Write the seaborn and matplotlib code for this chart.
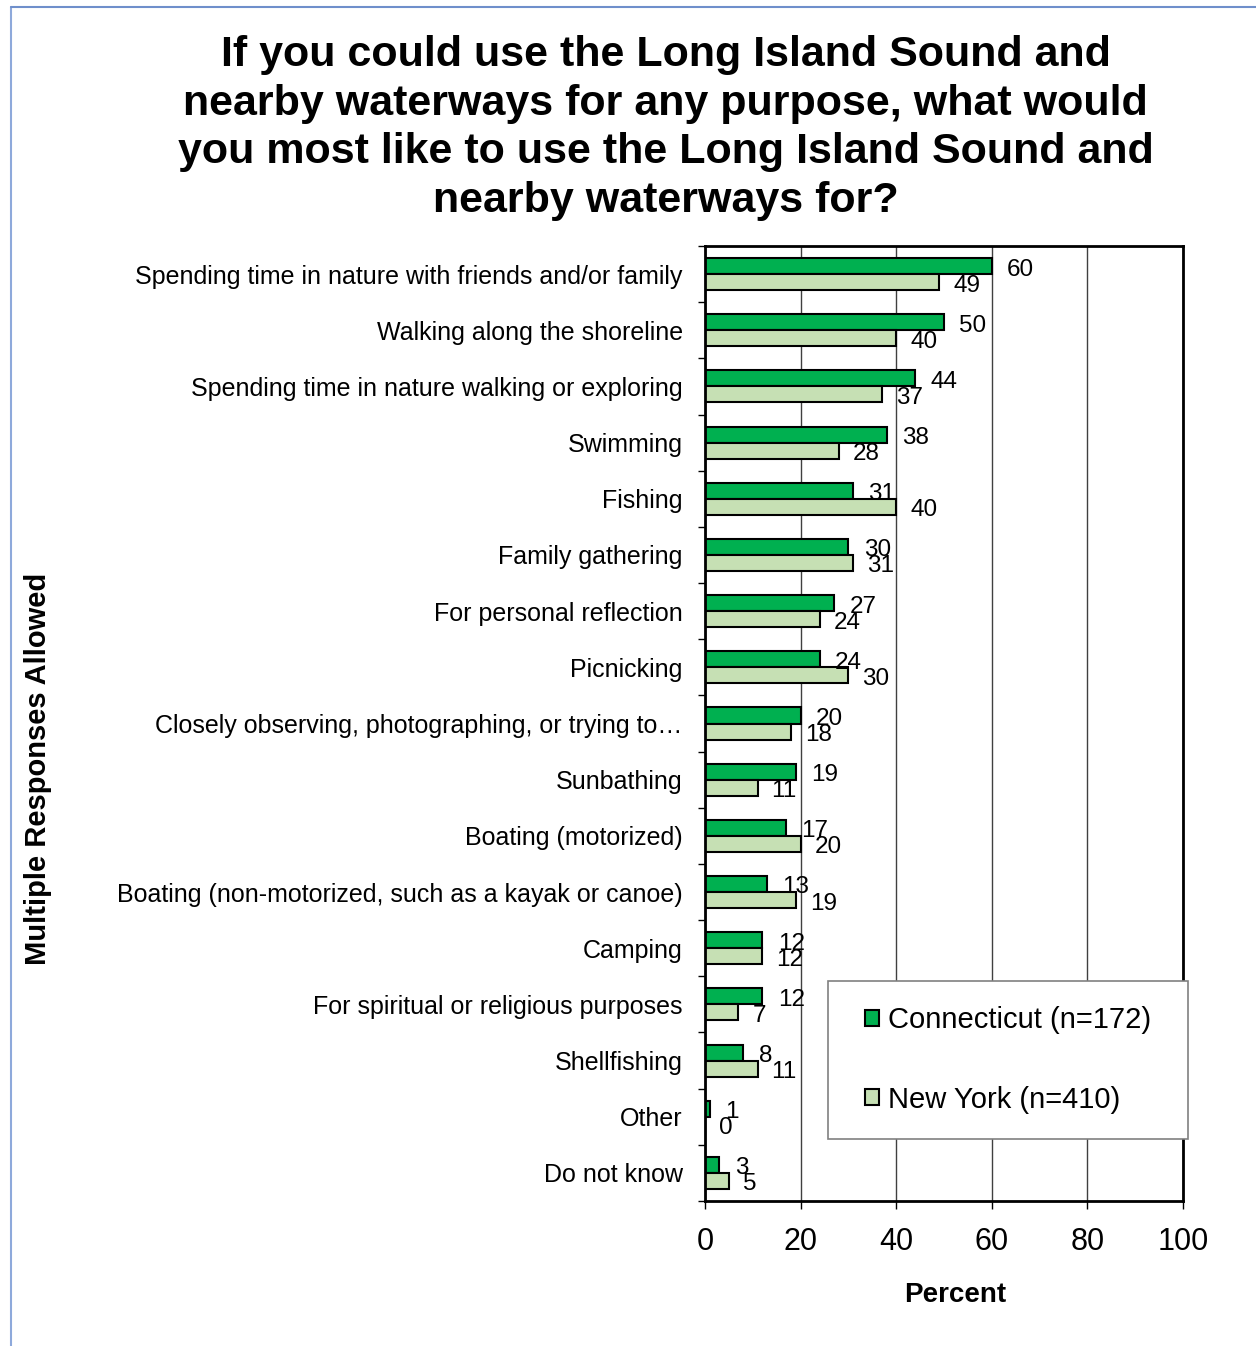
import numpy as np
import pandas as pd
import seaborn as sns
from matplotlib import pyplot as plt
from matplotlib.lines import Line2D
from matplotlib.patches import Patch, Rectangle

categories = [
    "Spending time in nature with friends and/or family",
    "Walking along the shoreline",
    "Spending time in nature walking or exploring",
    "Swimming",
    "Fishing",
    "Family gathering",
    "For personal reflection",
    "Picnicking",
    "Closely observing, photographing, or trying to\u2026",
    "Sunbathing",
    "Boating (motorized)",
    "Boating (non-motorized, such as a kayak or canoe)",
    "Camping",
    "For spiritual or religious purposes",
    "Shellfishing",
    "Other",
    "Do not know",
]
connecticut = [60, 50, 44, 38, 31, 30, 27, 24, 20, 19, 17, 13, 12, 12, 8, 1, 3]
new_york = [49, 40, 37, 28, 40, 31, 24, 30, 18, 11, 20, 19, 12, 7, 11, 0, 5]
series_names = ["Connecticut (n=172)", "New York (n=410)"]
colors = ["#00B050", "#C6E0B4"]

title = ("If you could use the Long Island Sound and\n"
         "nearby waterways for any purpose, what would\n"
         "you most like to use the Long Island Sound and\n"
         "nearby waterways for?")

df = pd.DataFrame({
    "Activity": categories * 2,
    "Percent": connecticut + new_york,
    "Group": [series_names[0]] * len(categories) + [series_names[1]] * len(categories),
})

sns.set_style("white")
plt.rcParams["font.family"] = ["Liberation Sans", "DejaVu Sans"]
plt.rcParams.update({"text.color": "black", "axes.labelcolor": "black",
                     "xtick.color": "black", "ytick.color": "black"})

W, H = 1256, 1346
fig = plt.figure(figsize=(W / 100, H / 100), dpi=100)
ax = fig.add_axes([705 / W, 1 - 1201 / H, 478 / W, 955 / H])

sns.barplot(data=df, x="Percent", y="Activity", hue="Group", order=categories,
            hue_order=series_names, palette=colors, saturation=1, width=0.57,
            edgecolor="black", linewidth=1.5, orient="h", legend=False, ax=ax)

# value labels to the right of each bar
for container, vals, dx in zip(ax.containers, [connecticut, new_york], [11, 10]):
    for bar, v in zip(container, vals):
        ax.annotate(str(v), (bar.get_width(), bar.get_y() + bar.get_height() / 2),
                    xytext=(dx, -2.5), textcoords="offset points",
                    ha="left", va="center", fontsize=17.5)

ax.set_xlim(0, 100)
ax.set_xticks(range(0, 101, 20))
ax.xaxis.grid(True, color="#404040", linewidth=1)
ax.set_axisbelow(True)
for s in ax.spines.values():
    s.set_visible(True)
    s.set_color("black")
    s.set_linewidth(2)

ax.tick_params(axis="x", bottom=True, length=6, width=1, direction="out",
               labelsize=22, pad=13)
ax.tick_params(axis="y", which="major", left=False, length=0, labelsize=18, pad=16)
ax.set_yticks(np.arange(-0.5, len(categories), 1), minor=True)
ax.tick_params(axis="y", which="minor", left=True, length=5, width=1, direction="out")

ax.set_xlabel("Percent", fontsize=20, fontweight="bold", va="top")
ax.xaxis.set_label_coords(0.523, -0.0848)
ax.set_ylabel("Multiple Responses Allowed", fontsize=21, fontweight="bold")
ax.yaxis.set_label_coords(-1.366, 0.452)

# legend box drawn as a figure patch so it can be wider than the entries
fig.add_artist(Rectangle((828 / W, 1 - 1139 / H), 360 / W, 158 / H,
                         transform=fig.transFigure, facecolor="white",
                         edgecolor="#808080", linewidth=1.2, zorder=1))
handles = [Patch(facecolor=c, edgecolor="black", linewidth=1.5) for c in colors]
fig.legend(handles, series_names, loc="center",
           bbox_to_anchor=(1008 / W, 1 - 1060 / H), bbox_transform=fig.transFigure,
           fontsize=21, frameon=False, handlelength=0.5, handleheight=0.5,
           handletextpad=0.3, labelspacing=1.75, borderpad=0.9)

fig.text(0.530, 1 - 128 / H, title, ha="center", va="center", fontsize=31,
         fontweight="bold", linespacing=1.27)

# page frame lines
fig.add_artist(Line2D([11 / W, 11 / W], [0, 1 - 7 / H], transform=fig.transFigure,
                      color="#8EA9DB", linewidth=1.5))
fig.add_artist(Line2D([11 / W, 1], [1 - 7 / H, 1 - 7 / H], transform=fig.transFigure,
                      color="#6F8FCB", linewidth=1.5))

fig.savefig("out.png", dpi=100)
